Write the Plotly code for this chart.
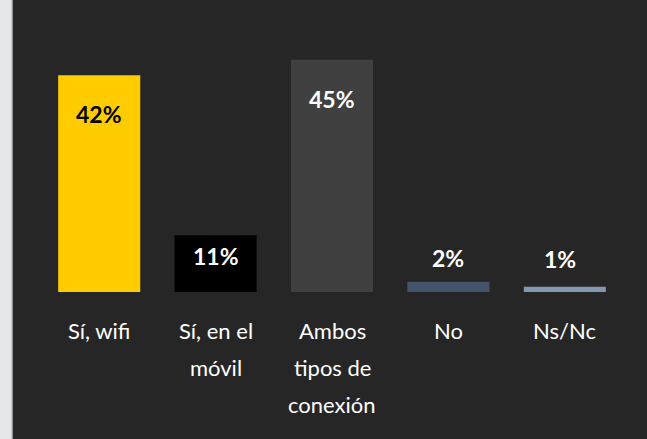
import plotly.graph_objects as go

categories = ["Sí, wifi", "Sí, en el\nmóvil", "Ambos\ntipos de\nconexión", "No", "Ns/Nc"]
values = [42, 11, 45, 2, 1]
value_labels = ["42%", "11%", "45%", "2%", "1%"]

bar_colors = ["#FFCC00", "#000000", "#404040", "#44546A", "#8497B0"]
label_colors = ["#000000", "#FFFFFF", "#FFFFFF", "#FFFFFF", "#FFFFFF"]
label_yshift = [-39, -21, -39, 24, 28]
label_xshift = [0, 0, 0, 0, -5]

FONT = "Lato, Calibri, Carlito, sans-serif"
keys = [c.replace("\n", " ") for c in categories]

fig = go.Figure(go.Bar(
    x=keys, y=values,
    marker=dict(color=bar_colors, line=dict(width=0)),
    hoverinfo="skip",
))

annotations = []
for k, v, t, c, ys, xs in zip(keys, values, value_labels, label_colors, label_yshift, label_xshift):
    annotations.append(dict(
        x=k, y=v, xref="x", yref="y", text=f"<b>{t}</b>", showarrow=False,
        yshift=ys, xshift=xs, yanchor="middle", xanchor="center",
        font=dict(family=FONT, size=23, color=c),
    ))
for k, c in zip(keys, categories):
    for i, line in enumerate(c.split("\n")):
        annotations.append(dict(
            x=k, y=0, xref="x", yref="y", text=line, showarrow=False,
            yshift=-38 - 37 * i, yanchor="middle", xanchor="center",
            font=dict(family=FONT, size=22, color="#FFFFFF"),
        ))

plot_w = 647 - 41 - 24
fig.update_layout(
    width=647, height=439,
    margin=dict(l=41, r=24, t=34, b=147, pad=0),
    paper_bgcolor="#262626", plot_bgcolor="#262626",
    bargap=0.295,
    showlegend=False,
    xaxis=dict(showticklabels=False, showgrid=False, zeroline=False, showline=False, ticks=""),
    yaxis=dict(range=[0, 50], visible=False, showgrid=False, zeroline=False),
    annotations=annotations,
    shapes=[
        dict(type="rect", xref="paper", yref="paper",
             x0=-41 / plot_w, x1=-29 / plot_w, y0=-2, y1=2,
             fillcolor="#E6E7E9", line=dict(width=0), layer="below"),
        dict(type="line", xref="paper", yref="paper",
             x0=-29 / plot_w, x1=-29 / plot_w, y0=-2, y1=2,
             line=dict(color="#BDBDBD", width=1.5), layer="below"),
    ],
)

fig.write_html(
    "out.html",
    config={"displayModeBar": False},
    post_script="document.body.style.margin='0';document.body.style.overflow='hidden';",
)
